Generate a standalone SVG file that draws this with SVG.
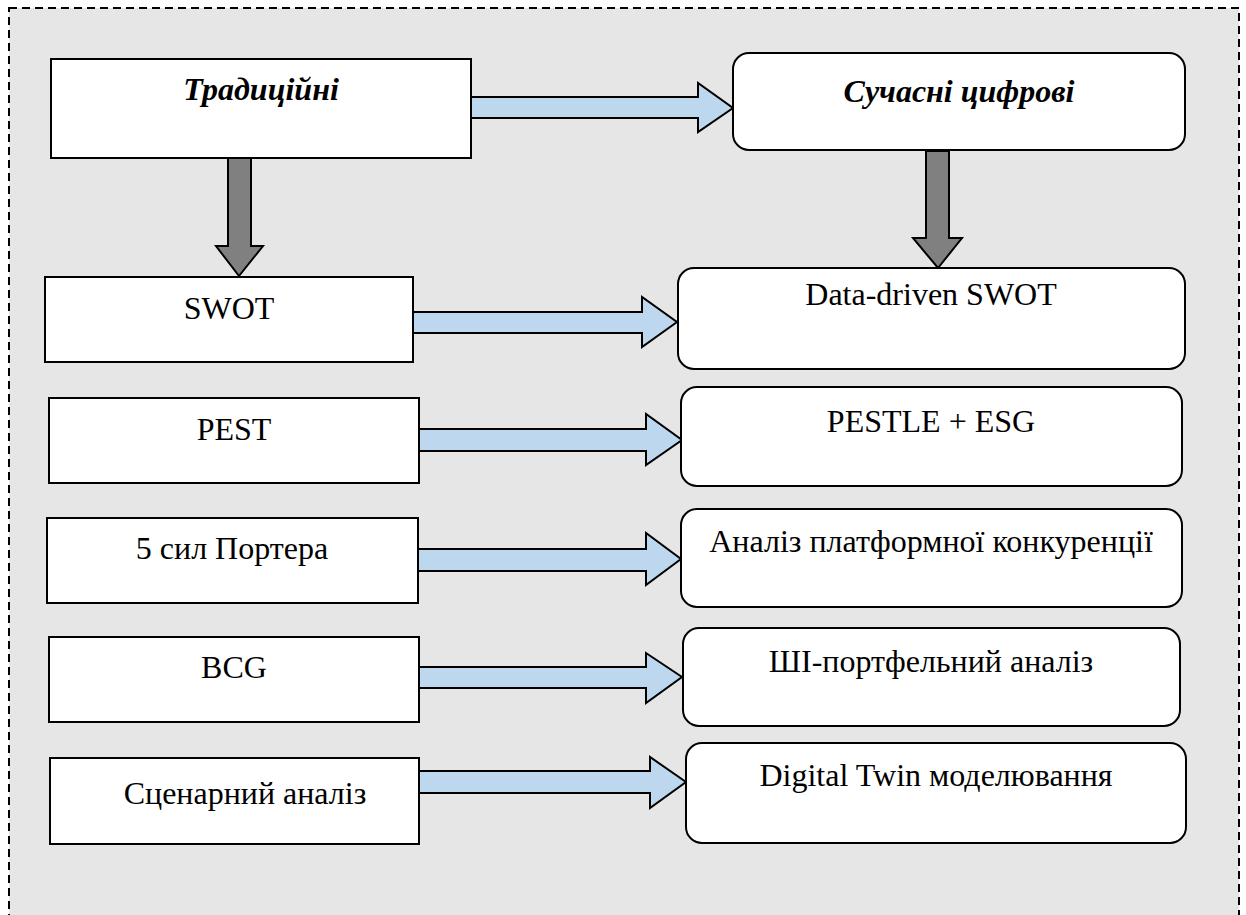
<svg xmlns="http://www.w3.org/2000/svg" width="1246" height="915" viewBox="0 0 1246 915">
  <style>
    .box { fill: #ffffff; stroke: #000000; stroke-width: 2; }
    .rbox { fill: #ffffff; stroke: #000000; stroke-width: 2; }
    .lbl { font-family: "Liberation Serif", "Times New Roman", serif; font-size: 32px; fill: #000000; text-anchor: middle; }
    .hdr { font-weight: bold; font-style: italic; }
    .flow { fill: #bdd7ee; stroke: #000000; stroke-width: 2; stroke-linejoin: miter; }
    .down { fill: #808080; stroke: #000000; stroke-width: 2; stroke-linejoin: miter; }
  </style>

  <!-- panel with dashed frame -->
  <rect x="9" y="8" width="1230" height="930" fill="#e6e6e6" stroke="#000000" stroke-width="2" stroke-dasharray="8 5"/>

  <!-- connectors -->
  <g id="connectors">
    <polygon class="flow" points="471,97 698,97 698,83 733,108 698,132 698,118 471,118"/>
    <polygon class="down" points="228,158 251,158 251,246 263,246 239,276 216,246 228,246"/>
    <polygon class="down" points="926,151 949,151 949,238 962,238 938,268 913,238 926,238"/>
    <polygon class="flow" points="413,312 642,312 642,297 677,322 642,347 642,333 413,333"/>
    <polygon class="flow" points="419,429 646,429 646,414 682,440 646,465 646,451 419,451"/>
    <polygon class="flow" points="418,549 646,549 646,533 681,559 646,585 646,571 418,571"/>
    <polygon class="flow" points="419,667 646,667 646,653 682,677 646,703 646,688 419,688"/>
    <polygon class="flow" points="419,771 650,771 650,757 686,782 650,808 650,793 419,793"/>
  </g>

  <!-- traditional tools -->
  <g id="node-traditional">
    <rect class="box" x="51" y="59" width="420" height="99"/>
    <text class="lbl hdr" x="261" y="100">Традиційні</text>
  </g>
  <g id="node-swot">
    <rect class="box" x="45" y="277" width="368" height="85"/>
    <text class="lbl" x="229" y="319">SWOT</text>
  </g>
  <g id="node-pest">
    <rect class="box" x="49" y="398" width="370" height="85"/>
    <text class="lbl" x="234" y="440">PEST</text>
  </g>
  <g id="node-porter">
    <rect class="box" x="47" y="518" width="371" height="85"/>
    <text class="lbl" x="232" y="559">5 сил Портера</text>
  </g>
  <g id="node-bcg">
    <rect class="box" x="49" y="637" width="370" height="85"/>
    <text class="lbl" x="234" y="678">BCG</text>
  </g>
  <g id="node-scenario">
    <rect class="box" x="50" y="758" width="369" height="86"/>
    <text class="lbl" x="245" y="804" font-size="31">Сценарний аналіз</text>
  </g>

  <!-- modern digital tools -->
  <g id="node-digital">
    <rect class="rbox" x="733" y="53" width="452" height="97" rx="16" ry="16"/>
    <text class="lbl hdr" x="959" y="102">Сучасні цифрові</text>
  </g>
  <g id="node-dd-swot">
    <rect class="rbox" x="678" y="268" width="507" height="101" rx="16" ry="16"/>
    <text class="lbl" x="931" y="305">Data-driven SWOT</text>
  </g>
  <g id="node-pestle">
    <rect class="rbox" x="681" y="387" width="501" height="99" rx="16" ry="16"/>
    <text class="lbl" x="931" y="432">PESTLE + ESG</text>
  </g>
  <g id="node-platform">
    <rect class="rbox" x="681" y="509" width="501" height="98" rx="16" ry="16"/>
    <text class="lbl" x="931" y="552">Аналіз платформної конкуренції</text>
  </g>
  <g id="node-ai">
    <rect class="rbox" x="683" y="628" width="497" height="98" rx="16" ry="16"/>
    <text class="lbl" x="931" y="672">ШІ-портфельний аналіз</text>
  </g>
  <g id="node-twin">
    <rect class="rbox" x="686" y="743" width="500" height="100" rx="16" ry="16"/>
    <text class="lbl" x="936" y="786">Digital Twin моделювання</text>
  </g>
</svg>
